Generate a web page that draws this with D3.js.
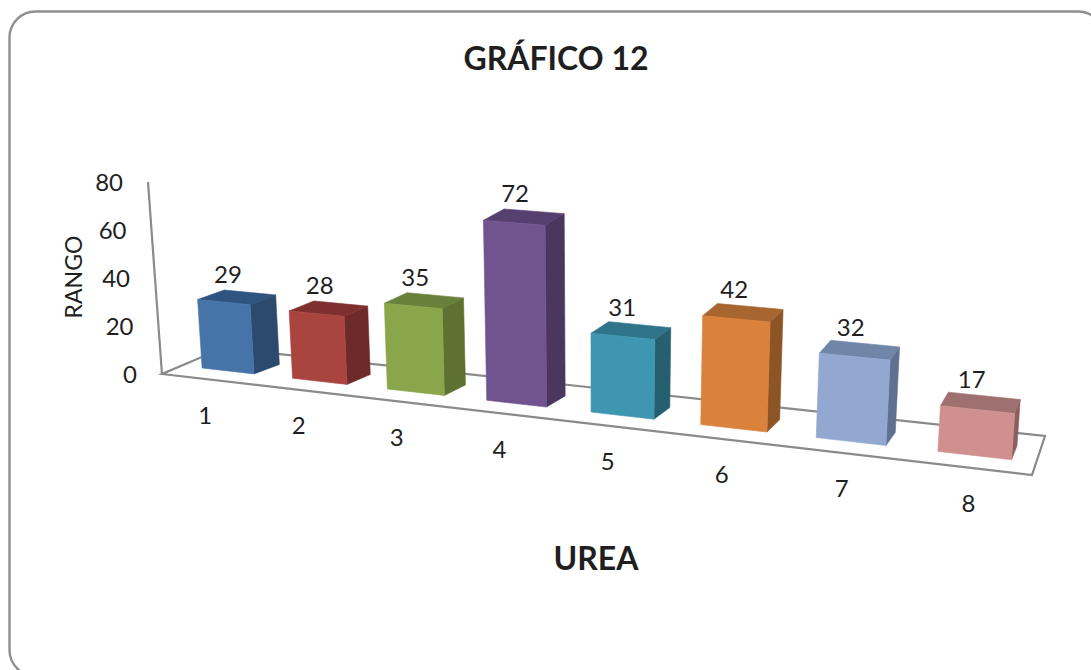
<!DOCTYPE html>
<html>
<head>
<meta charset="utf-8">
<script src="https://cdn.jsdelivr.net/npm/d3@7/dist/d3.min.js"></script>
<style>
  html, body { margin: 0; padding: 0; background: #fff; overflow: hidden; }
  svg { display: block; }
  text { font-family: Lato, "Open Sans", sans-serif; fill: #1f1f1f; }
</style>
</head>
<body>
<svg id="chart" width="1091" height="670"></svg>
<script>
const categories = ["1", "2", "3", "4", "5", "6", "7", "8"];
const values = [29, 28, 35, 72, 31, 42, 32, 17];
const axisTicks = [0, 20, 40, 60, 80];
const frontColors = ["#4674a9", "#a9443f", "#8aa64b", "#71548f", "#3f96b0", "#da813b", "#93a8d0", "#d19090"];
const sideColors = ["#2c4a6e", "#6e2a28", "#5d7232", "#4a365e", "#265f70", "#8d5526", "#5f7090", "#8c5e5e"];
const topColors = ["#2f5480", "#7e2f2e", "#67803a", "#56406f", "#2f7488", "#a76530", "#7086a8", "#9e7070"];

const svg = d3.select("#chart");
const LINE = "#8a8a8a";

// Floor outline on screen: front-left, front-right, back-right, back-left
const floor = [[162, 374], [1032, 475], [1045, 436], [223, 348]];
// Plane the bars stand on; shares the floor's right side
const barPlane = [[162, 374], [1032, 475], [1045, 436], [236, 349]];

// Homography from the unit square (u along categories, w into depth) to a quad
function buildHomography([p0, p1, p2, p3]) {
  const dx1 = p1[0] - p2[0], dy1 = p1[1] - p2[1];
  const dx2 = p3[0] - p2[0], dy2 = p3[1] - p2[1];
  const sx = p0[0] - p1[0] + p2[0] - p3[0], sy = p0[1] - p1[1] + p2[1] - p3[1];
  const det = dx1 * dy2 - dx2 * dy1;
  const g = (sx * dy2 - dx2 * sy) / det, h = (dx1 * sy - sx * dy1) / det;
  const a = p1[0] - p0[0] + g * p1[0], b = p3[0] - p0[0] + h * p3[0];
  const d = p1[1] - p0[1] + g * p1[1], e = p3[1] - p0[1] + h * p3[1];
  return (u, w) => {
    const q = g * u + h * w + 1;
    return [(a * u + b * w + p0[0]) / q, (d * u + e * w + p0[1]) / q];
  };
}
const onFloor = buildHomography(barPlane);

// Category slots along the floor, depth band of the bars, value height
const slot = d3.scaleBand().domain(categories).range([0, 1]).paddingInner(0.42).paddingOuter(0.19);
const depth = { front: 0.30, back: 0.66 };
const unitPx = d3.scaleLinear().domain([199, 487, 937]).range([2.36, 2.5, 2.69]);
const lean = d3.scaleLinear().domain([162, 937]).range([-0.0725, 0.057]);

// Screen position of a point at floor (u, w) raised by a value
function project(u, w, v) {
  const [x, y] = onFloor(u, w);
  const h = v * unitPx(x);
  return [x + lean(x) * h, y - h];
}
const poly = pts => "M" + pts.map(p => p.join(",")).join("L") + "Z";

// Chart frame, running off the right and bottom of the page
svg.append("rect")
  .attr("x", 9.5).attr("y", 11.5).attr("width", 1094.5).attr("height", 664.5).attr("rx", 26)
  .attr("fill", "#fff").attr("stroke", "#8f8f8f").attr("stroke-width", 2.4);

// Floor outline and value axis line
svg.append("path").attr("d", poly(floor))
  .attr("fill", "none").attr("stroke", LINE).attr("stroke-width", 2.2);

const y = d3.scaleLinear().domain([0, 80]).range([374.5, 182]);
svg.append("line")
  .attr("x1", floor[0][0]).attr("y1", y(0))
  .attr("x2", floor[0][0] - 14).attr("y2", y(80))
  .attr("stroke", LINE).attr("stroke-width", 2.2);

// Value axis labels follow the leaning wall edge
const labelShift = d3.scaleLinear().domain([0, 80]).range([0, -14]);
const yAxis = d3.axisLeft(y).tickValues(axisTicks).tickSize(0).tickPadding(0);
const yAxisG = svg.append("g").attr("transform", "translate(137,0.5)").call(yAxis);
yAxisG.select(".domain").remove();
yAxisG.selectAll("text")
  .attr("dx", d => labelShift(d))
  .style("font-size", "24px").style("font-family", "Lato, sans-serif").style("fill", "#1f1f1f");

// Bars: side and top faces first, front face last
const bars = svg.selectAll("g.bar")
  .data(values.map((v, i) => ({ v, i, cat: categories[i] })))
  .join("g").attr("class", "bar");

const u0 = d => slot(d.cat), u1 = d => slot(d.cat) + slot.bandwidth();

bars.append("path").attr("fill", d => sideColors[d.i]).attr("stroke", d => sideColors[d.i]).attr("stroke-width", 0.6)
  .attr("d", d => poly([
    project(u1(d), depth.front, 0), project(u1(d), depth.back, 0),
    project(u1(d), depth.back, d.v), project(u1(d), depth.front, d.v)]));
bars.append("path").attr("fill", d => topColors[d.i]).attr("stroke", d => topColors[d.i]).attr("stroke-width", 0.6)
  .attr("d", d => poly([
    project(u0(d), depth.front, d.v), project(u1(d), depth.front, d.v),
    project(u1(d), depth.back, d.v), project(u0(d), depth.back, d.v)]));
bars.append("path").attr("fill", d => frontColors[d.i]).attr("stroke", d => frontColors[d.i]).attr("stroke-width", 0.6)
  .attr("d", d => poly([
    project(u0(d), depth.front, 0), project(u1(d), depth.front, 0),
    project(u1(d), depth.front, d.v), project(u0(d), depth.front, d.v)]));

// Value labels above each bar's top face
bars.append("text").attr("text-anchor", "middle").attr("dominant-baseline", "central")
  .style("font-size", "24px")
  .attr("x", d => project((u0(d) + u1(d)) / 2, (depth.front + depth.back) / 2, d.v)[0] - 9)
  .attr("y", d => project((u0(d) + u1(d)) / 2, (depth.front + depth.back) / 2, d.v)[1] - 24)
  .text(d => d.v);

// Category labels below the floor's front edge
svg.selectAll("text.cat").data(categories).join("text").attr("class", "cat")
  .attr("text-anchor", "middle").attr("dominant-baseline", "central")
  .style("font-size", "24px")
  .attr("x", d => onFloor(slot(d) + slot.bandwidth() / 2, 0)[0])
  .attr("y", d => onFloor(slot(d) + slot.bandwidth() / 2, 0)[1] + 35)
  .text(d => d);

// Titles
svg.append("text").attr("x", 556).attr("y", 57).attr("text-anchor", "middle").attr("dominant-baseline", "central")
  .style("font-size", "32px").style("font-weight", 700).text("GRÁFICO 12");
svg.append("text").attr("x", 596).attr("y", 557).attr("text-anchor", "middle").attr("dominant-baseline", "central")
  .style("font-size", "32px").style("font-weight", 700).text("UREA");
svg.append("text").attr("transform", "translate(73,277) rotate(-90)")
  .attr("text-anchor", "middle").attr("dominant-baseline", "central")
  .style("font-size", "23px").text("RANGO");
</script>
</body>
</html>
